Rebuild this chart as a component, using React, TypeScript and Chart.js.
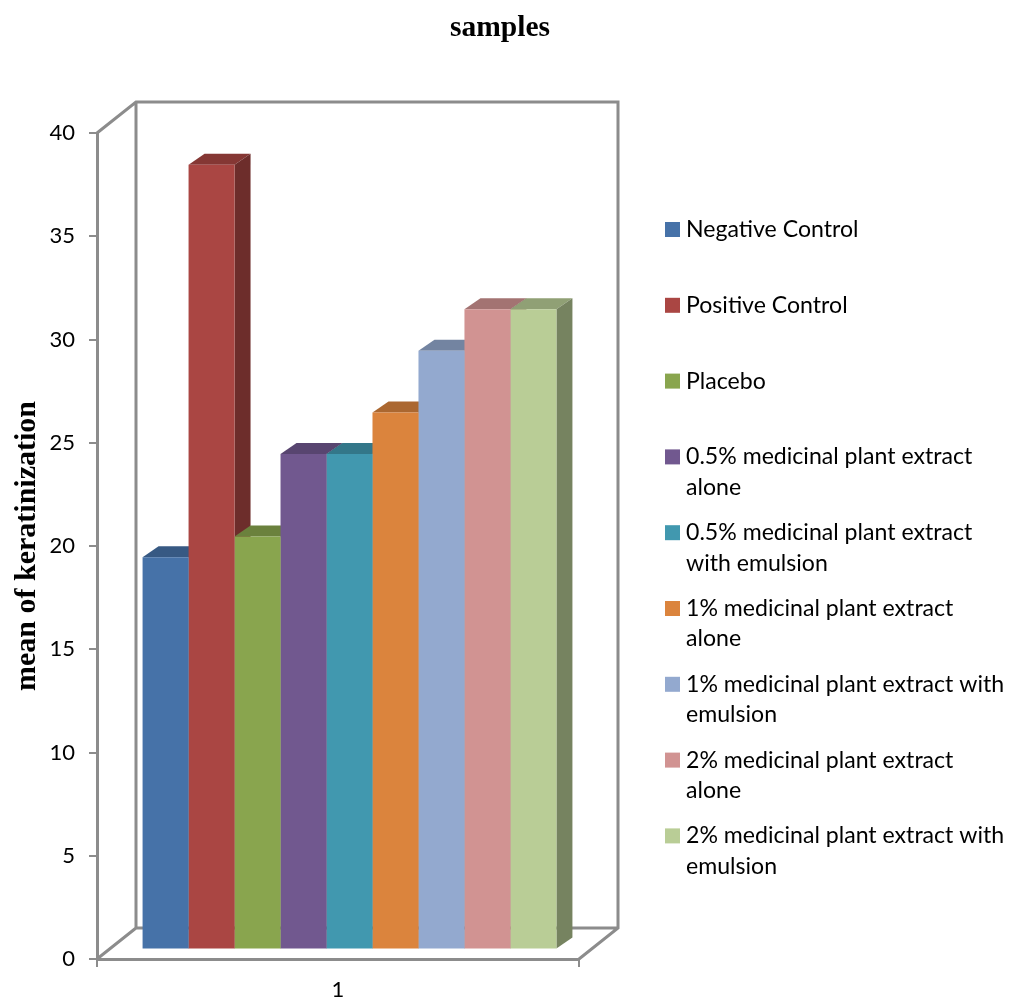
import React, { useEffect, useRef } from "react";
import { Chart, registerables } from "chart.js";

Chart.register(...registerables);

const categories = ["1"];
const seriesLines = [
  ["Negative Control"],
  ["Positive Control"],
  ["Placebo"],
  ["0.5% medicinal plant extract", "alone"],
  ["0.5% medicinal plant extract", "with emulsion"],
  ["1% medicinal plant extract", "alone"],
  ["1% medicinal plant extract with", "emulsion"],
  ["2% medicinal plant extract", "alone"],
  ["2% medicinal plant extract with", "emulsion"],
];
const seriesValues = [19, 38, 20, 24, 24, 26, 29, 31, 31];
const seriesColors = [
  "#4672A8", "#AA4643", "#89A54E", "#71588F", "#4198AF",
  "#DB843D", "#93A9CF", "#D19392", "#B9CD96",
];

const AXIS_COLOR = "#8C8C8C";
const TEXT_FONT = "Lato, Carlito, sans-serif";
const SERIF_FONT = "'Liberation Serif', serif";

// Offsets that give the flat bars and plot walls their perspective look.
const WALL_DX = 39;
const WALL_DY = -31;
const BAR_SHIFT_X = 11.5;
const BAR_SHIFT_Y = -9.5;
const BAR_DX = 16;
const BAR_DY = -11;

function shade(hex: string, f: number) {
  const n = parseInt(hex.slice(1), 16);
  const c = [(n >> 16) & 255, (n >> 8) & 255, n & 255].map((v) => Math.round(v * f));
  return `rgb(${c[0]},${c[1]},${c[2]})`;
}

function polygon(ctx: CanvasRenderingContext2D, pts: number[][], fill: string) {
  ctx.beginPath();
  pts.forEach(([x, y], i) => (i ? ctx.lineTo(x, y) : ctx.moveTo(x, y)));
  ctx.closePath();
  ctx.fillStyle = fill;
  ctx.fill();
}

const wallsPlugin = {
  id: "walls",
  beforeDatasetsDraw(chart: any) {
    const { ctx, scales } = chart;
    const l = scales.x.left;
    const r = scales.x.right;
    const b = scales.y.getPixelForValue(0);
    const t = scales.y.getPixelForValue(40);
    const bl = l + WALL_DX;
    const br = r + WALL_DX;
    const by = b + WALL_DY;
    const ty = t + WALL_DY;
    ctx.save();
    ctx.strokeStyle = AXIS_COLOR;
    ctx.lineWidth = 3;
    ctx.beginPath();
    ctx.moveTo(l, t);
    ctx.lineTo(bl, ty);
    ctx.lineTo(br, ty);
    ctx.lineTo(br, by);
    ctx.lineTo(r, b);
    ctx.moveTo(bl, ty);
    ctx.lineTo(bl, by);
    ctx.lineTo(br, by);
    ctx.moveTo(bl, by);
    ctx.lineTo(l, b);
    ctx.stroke();
    ctx.restore();
  },
};

// Tops and sides go down first, left to right, so each front face covers its neighbour.
const barDepthPlugin = {
  id: "barDepth",
  beforeDatasetsDraw(chart: any) {
    const { ctx } = chart;
    ctx.save();
    ctx.translate(BAR_SHIFT_X, BAR_SHIFT_Y);
    chart.data.datasets.forEach((ds: any, i: number) => {
      const bar = chart.getDatasetMeta(i).data[0];
      const { x, y, base, width } = bar.getProps(["x", "y", "base", "width"], true);
      const l = x - width / 2;
      const r = x + width / 2;
      polygon(ctx, [[l, y], [l + BAR_DX, y + BAR_DY], [r + BAR_DX, y + BAR_DY], [r, y]], shade(ds.backgroundColor, 0.78));
      polygon(ctx, [[r, y], [r + BAR_DX, y + BAR_DY], [r + BAR_DX, base + BAR_DY], [r, base]], shade(ds.backgroundColor, 0.64));
    });
  },
  afterDatasetsDraw(chart: any) {
    chart.ctx.restore();
  },
};

const legendPlugin = {
  id: "sideLegend",
  afterLayout(chart: any) {
    // The title is centred over the page rather than over the plot area.
    chart.titleBlock.left = 0;
    chart.titleBlock.right = 1000;
  },
  afterDraw(chart: any) {
    const { ctx } = chart;
    ctx.save();
    ctx.font = `23.1px ${TEXT_FONT}`;
    ctx.textBaseline = "middle";
    ctx.textAlign = "left";
    seriesLines.forEach((lines, i) => {
      const y = 229.5 + i * 75.8;
      ctx.fillStyle = seriesColors[i];
      ctx.fillRect(665, y - 7.5, 15, 15);
      ctx.fillStyle = "#000";
      lines.forEach((line, k) => ctx.fillText(line, 686, y + k * 30.5));
    });
    ctx.restore();
  },
};

export default function App() {
  const ref = useRef<HTMLCanvasElement | null>(null);

  useEffect(() => {
    const chart = new Chart(ref.current!, {
      type: "bar",
      data: {
        labels: categories,
        datasets: seriesValues.map((v, i) => ({
          label: seriesLines[i].join(" "),
          data: [v],
          backgroundColor: seriesColors[i],
          borderWidth: 0,
          clip: false as any,
        })),
      },
      options: {
        animation: false,
        responsive: false,
        layout: { padding: { left: 0, right: 430, top: 0, bottom: 0 } },
        categoryPercentage: 0.8586,
        barPercentage: 1,
        plugins: {
          legend: { display: false },
          tooltip: { enabled: false },
          title: {
            display: true,
            text: "samples",
            color: "#000",
            font: { family: SERIF_FONT, size: 29.5, weight: "bold" },
            padding: { top: 11, bottom: 86.6 },
          },
        },
        scales: {
          x: {
            offset: true,
            afterFit: (s: any) => {
              s.height = 42;
            },
            grid: {
              offset: true,
              drawOnChartArea: false,
              drawTicks: true,
              tickLength: 8,
              color: AXIS_COLOR,
              lineWidth: 2,
            },
            border: { display: true, color: AXIS_COLOR, width: 3 },
            ticks: { color: "#000", font: { family: TEXT_FONT, size: 22 }, padding: 10 },
          },
          y: {
            min: 0,
            max: 40,
            afterFit: (s: any) => {
              s.width = 97;
            },
            grid: {
              drawOnChartArea: false,
              drawTicks: true,
              tickLength: 8,
              color: AXIS_COLOR,
              lineWidth: 2,
            },
            border: { display: true, color: AXIS_COLOR, width: 3 },
            ticks: { stepSize: 5, color: "#000", font: { family: TEXT_FONT, size: 22 }, padding: 14 },
            title: {
              display: true,
              text: "mean of keratinization",
              color: "#000",
              font: { family: SERIF_FONT, size: 30, weight: "bold" },
              padding: { top: 9, bottom: 0 },
            },
          },
        },
      },
      plugins: [wallsPlugin, barDepthPlugin, legendPlugin],
    } as any);
    return () => chart.destroy();
  }, []);

  return (
    <canvas
      ref={ref}
      width={1009}
      height={1001}
      style={{ position: "absolute", left: 0, top: 0, display: "block" }}
    />
  );
}
